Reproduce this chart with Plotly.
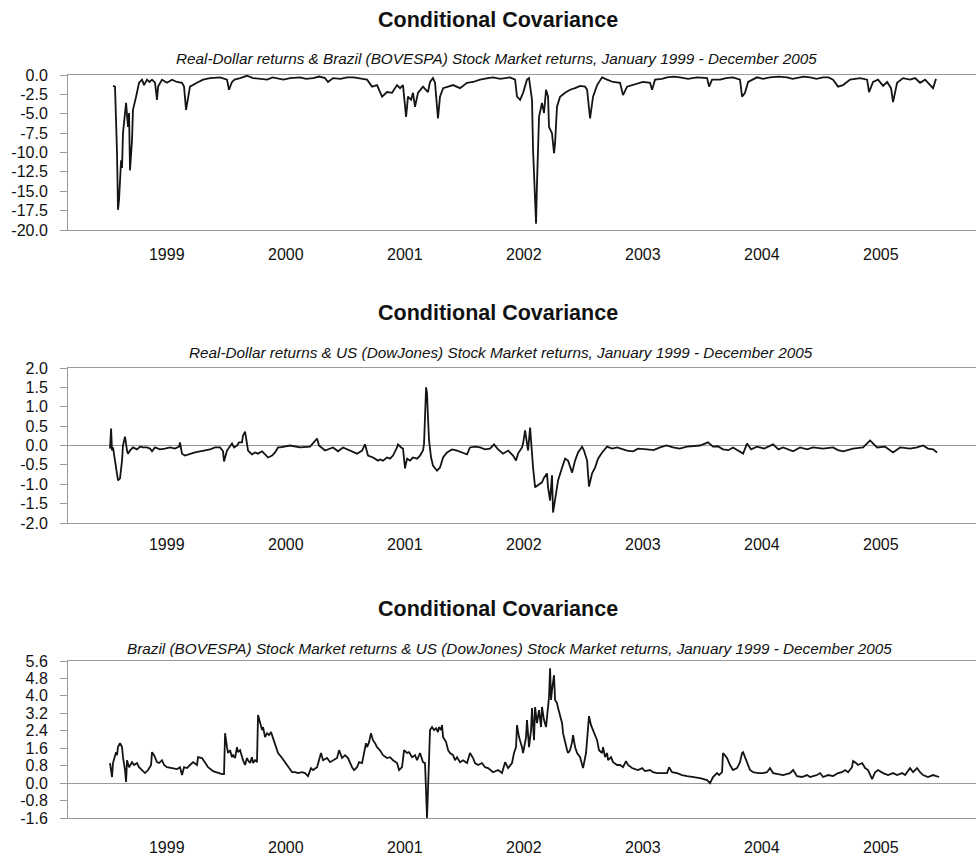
import plotly.graph_objects as go

# ---------------- data (decimal years, covariance values) ----------------
t_rd_bov = [1999.008, 1999.025, 1999.042, 1999.050, 1999.059, 1999.076, 1999.084, 1999.092, 1999.118, 1999.134,
            1999.143, 1999.151, 1999.168, 1999.176, 1999.202, 1999.227, 1999.252, 1999.269, 1999.294, 1999.315,
            1999.336, 1999.361, 1999.378, 1999.387, 1999.420, 1999.462, 1999.504, 1999.546, 1999.588, 1999.605,
            1999.622, 1999.639, 1999.655, 1999.714, 1999.765, 1999.824, 1999.908, 1999.966, 1999.983, 2000.008,
            2000.030, 2000.076, 2000.134, 2000.185, 2000.240, 2000.303, 2000.350, 2000.387, 2000.440, 2000.496,
            2000.580, 2000.630, 2000.689, 2000.740, 2000.790, 2000.815, 2000.857, 2000.920, 2000.975, 2001.030,
            2001.084, 2001.143, 2001.185, 2001.227, 2001.269, 2001.311, 2001.353, 2001.395, 2001.420, 2001.445,
            2001.471, 2001.487, 2001.513, 2001.529, 2001.546, 2001.571, 2001.613, 2001.655, 2001.672, 2001.697,
            2001.714, 2001.739, 2001.756, 2001.782, 2001.824, 2001.866, 2001.924, 2001.983, 2002.034, 2002.092,
            2002.160, 2002.202, 2002.261, 2002.345, 2002.387, 2002.403, 2002.429, 2002.454, 2002.487, 2002.504,
            2002.529, 2002.538, 2002.555, 2002.563, 2002.571, 2002.588, 2002.613, 2002.630, 2002.647, 2002.664,
            2002.672, 2002.697, 2002.714, 2002.723, 2002.739, 2002.765, 2002.807, 2002.849, 2002.891, 2002.933,
            2002.975, 2002.992, 2003.017, 2003.042, 2003.076, 2003.118, 2003.160, 2003.210, 2003.269, 2003.294,
            2003.328, 2003.378, 2003.462, 2003.521, 2003.538, 2003.563, 2003.620, 2003.664, 2003.720, 2003.773,
            2003.840, 2003.916, 2004.000, 2004.017, 2004.042, 2004.109, 2004.160, 2004.218, 2004.277, 2004.294,
            2004.319, 2004.345, 2004.420, 2004.470, 2004.529, 2004.600, 2004.672, 2004.720, 2004.756, 2004.810,
            2004.866, 2004.920, 2004.975, 2005.020, 2005.059, 2005.101, 2005.143, 2005.202, 2005.286, 2005.345,
            2005.361, 2005.395, 2005.437, 2005.479, 2005.513, 2005.546, 2005.563, 2005.597, 2005.647, 2005.706,
            2005.748, 2005.790, 2005.832, 2005.874, 2005.899, 2005.924]
v_rd_bov = [-1.4, -1.5, -10.1, -17.4, -16.1, -11.0, -12.0, -7.5, -3.6, -6.7,
            -4.9, -12.3, -8.4, -4.5, -2.8, -1.0, -0.6, -1.3, -0.6, -0.9,
            -0.6, -1.0, -3.2, -1.5, -0.6, -1.0, -0.6, -0.9, -1.0, -1.5,
            -4.5, -2.8, -1.5, -1.0, -0.6, -0.4, -0.3, -0.6, -1.9, -0.9,
            -0.6, -0.4, -0.1, -0.4, -0.5, -0.6, -0.3, -0.4, -0.6, -0.4,
            -0.3, -0.5, -0.4, -0.2, -0.4, -0.9, -0.4, -0.5, -0.3, -0.3,
            -0.4, -0.6, -1.5, -1.3, -2.8, -2.2, -2.3, -1.3, -1.7, -1.3,
            -5.4, -2.8, -3.2, -2.3, -4.1, -2.3, -1.5, -2.2, -0.9, -0.4,
            -1.0, -5.6, -2.8, -1.7, -1.5, -1.3, -1.7, -1.0, -0.9, -0.6,
            -0.4, -0.3, -0.5, -0.3, -0.6, -2.8, -3.2, -2.3, -0.6, -0.4,
            -3.2, -9.7, -16.1, -19.2, -14.0, -5.4, -3.6, -4.9, -1.9, -2.8,
            -6.7, -7.5, -10.1, -8.8, -4.1, -2.8, -2.3, -1.9, -1.7, -1.4,
            -1.5, -1.9, -5.6, -2.8, -1.3, -0.3, -0.6, -0.9, -1.0, -2.6,
            -1.5, -1.3, -0.9, -1.0, -1.9, -0.6, -0.5, -0.3, -0.2, -0.3,
            -0.5, -0.3, -0.4, -1.5, -0.6, -0.6, -0.4, -0.3, -0.6, -2.8,
            -2.3, -0.9, -0.3, -0.5, -0.3, -0.2, -0.3, -0.5, -0.4, -0.2,
            -0.3, -0.5, -0.3, -0.3, -0.6, -1.5, -1.3, -0.6, -0.4, -0.6,
            -2.2, -0.9, -0.6, -1.4, -0.9, -1.7, -3.5, -1.0, -0.4, -0.6,
            -0.4, -1.0, -0.6, -1.3, -1.7, -0.5]

t_rd_dj = [1998.983, 1998.992, 1999.000, 1999.008, 1999.025, 1999.042, 1999.050, 1999.067, 1999.084, 1999.092,
           1999.109, 1999.126, 1999.134, 1999.151, 1999.176, 1999.210, 1999.235, 1999.261, 1999.294, 1999.319,
           1999.336, 1999.361, 1999.403, 1999.445, 1999.487, 1999.529, 1999.563, 1999.571, 1999.588, 1999.613,
           1999.655, 1999.697, 1999.739, 1999.782, 1999.824, 1999.866, 1999.908, 1999.933, 1999.941, 1999.966,
           1999.992, 2000.008, 2000.025, 2000.050, 2000.067, 2000.092, 2000.101, 2000.118, 2000.134, 2000.143,
           2000.176, 2000.202, 2000.227, 2000.261, 2000.286, 2000.311, 2000.345, 2000.370, 2000.395, 2000.412,
           2000.496, 2000.580, 2000.664, 2000.723, 2000.739, 2000.790, 2000.857, 2000.899, 2000.941, 2001.000,
           2001.059, 2001.101, 2001.126, 2001.151, 2001.193, 2001.235, 2001.252, 2001.277, 2001.311, 2001.336,
           2001.361, 2001.395, 2001.403, 2001.429, 2001.445, 2001.462, 2001.479, 2001.504, 2001.529, 2001.563,
           2001.588, 2001.613, 2001.622, 2001.639, 2001.647, 2001.655, 2001.664, 2001.681, 2001.697, 2001.731,
           2001.756, 2001.782, 2001.815, 2001.857, 2001.899, 2001.941, 2001.983, 2002.008, 2002.050, 2002.092,
           2002.134, 2002.176, 2002.210, 2002.244, 2002.286, 2002.328, 2002.370, 2002.395, 2002.412, 2002.445,
           2002.454, 2002.471, 2002.487, 2002.496, 2002.513, 2002.529, 2002.538, 2002.555, 2002.580, 2002.613,
           2002.630, 2002.655, 2002.664, 2002.681, 2002.697, 2002.706, 2002.731, 2002.748, 2002.782, 2002.807,
           2002.832, 2002.866, 2002.891, 2002.916, 2002.950, 2002.966, 2002.992, 2003.008, 2003.034, 2003.059,
           2003.084, 2003.118, 2003.160, 2003.202, 2003.244, 2003.286, 2003.328, 2003.378, 2003.420, 2003.496,
           2003.550, 2003.605, 2003.660, 2003.714, 2003.770, 2003.832, 2003.880, 2003.941, 2004.008, 2004.050,
           2004.090, 2004.134, 2004.180, 2004.218, 2004.303, 2004.336, 2004.370, 2004.420, 2004.480, 2004.555,
           2004.600, 2004.639, 2004.723, 2004.782, 2004.840, 2004.891, 2004.975, 2005.059, 2005.100, 2005.143,
           2005.227, 2005.311, 2005.370, 2005.429, 2005.496, 2005.563, 2005.622, 2005.706, 2005.765, 2005.815,
           2005.857, 2005.899, 2005.933]
v_rd_dj = [-0.08, 0.44, -0.13, -0.05, -0.39, -0.83, -0.90, -0.85, -0.39, 0.00,
           0.23, -0.13, -0.21, -0.13, -0.05, -0.10, -0.03, -0.05, -0.05, -0.08,
           -0.15, -0.05, -0.10, -0.08, -0.05, -0.08, -0.03, 0.08, -0.21, -0.26,
           -0.21, -0.18, -0.15, -0.13, -0.10, -0.05, -0.05, -0.15, -0.41, -0.13,
           0.00, 0.05, -0.05, 0.00, 0.08, 0.08, 0.26, 0.36, 0.05, -0.13,
           -0.23, -0.18, -0.21, -0.15, -0.23, -0.31, -0.26, -0.18, -0.05, -0.05,
           0.00, -0.05, -0.03, 0.18, 0.00, -0.13, -0.05, -0.15, -0.05, -0.13,
           -0.21, -0.13, 0.03, -0.26, -0.31, -0.39, -0.36, -0.39, -0.31, -0.34,
           -0.26, -0.05, 0.03, -0.05, -0.08, -0.59, -0.34, -0.39, -0.31, -0.34,
           -0.26, -0.13, 0.05, 1.50, 1.34, 0.72, 0.13, -0.31, -0.52, -0.65,
           -0.57, -0.31, -0.18, -0.10, -0.13, -0.18, -0.23, -0.05, -0.03, -0.05,
           -0.10, -0.08, 0.03, -0.10, -0.21, -0.13, -0.26, -0.39, -0.21, -0.05,
           0.05, 0.39, 0.05, -0.13, 0.46, -0.31, -0.57, -1.08, -1.03, -0.95,
           -0.83, -0.72, -1.08, -1.42, -0.77, -1.73, -1.24, -0.90, -0.57, -0.34,
           -0.39, -0.70, -0.39, -0.18, -0.03, -0.13, -0.39, -1.06, -0.72, -0.57,
           -0.34, -0.18, -0.03, -0.08, -0.05, -0.10, -0.13, -0.15, -0.08, -0.10,
           -0.12, -0.05, 0.00, -0.05, -0.08, -0.03, -0.02, 0.00, 0.08, -0.03,
           -0.02, -0.10, -0.12, -0.05, -0.21, 0.05, -0.10, -0.03, -0.08, 0.03,
           -0.10, -0.05, -0.15, -0.05, -0.10, -0.05, -0.08, -0.05, -0.12, -0.15,
           -0.08, -0.05, 0.13, -0.05, -0.03, -0.18, -0.05, -0.08, -0.05, 0.00,
           -0.08, -0.10, -0.18]

t_bov_dj = [1998.983, 1999.000, 1999.008, 1999.025, 1999.034, 1999.042, 1999.050, 1999.067, 1999.084, 1999.092,
            1999.109, 1999.118, 1999.126, 1999.143, 1999.168, 1999.185, 1999.210, 1999.227, 1999.252, 1999.277,
            1999.303, 1999.328, 1999.336, 1999.353, 1999.378, 1999.395, 1999.420, 1999.437, 1999.462, 1999.504,
            1999.546, 1999.571, 1999.588, 1999.605, 1999.630, 1999.655, 1999.681, 1999.714, 1999.723, 1999.756,
            1999.782, 1999.807, 1999.849, 1999.891, 1999.924, 1999.941, 1999.950, 1999.966, 1999.975, 1999.992,
            2000.008, 2000.017, 2000.034, 2000.050, 2000.059, 2000.076, 2000.092, 2000.101, 2000.118, 2000.134,
            2000.143, 2000.160, 2000.176, 2000.185, 2000.202, 2000.218, 2000.227, 2000.244, 2000.261, 2000.269,
            2000.286, 2000.303, 2000.319, 2000.336, 2000.353, 2000.370, 2000.395, 2000.429, 2000.454, 2000.479,
            2000.513, 2000.538, 2000.563, 2000.597, 2000.622, 2000.647, 2000.672, 2000.689, 2000.723, 2000.739,
            2000.756, 2000.773, 2000.807, 2000.832, 2000.857, 2000.891, 2000.908, 2000.933, 2000.958, 2000.983,
            2001.017, 2001.034, 2001.059, 2001.076, 2001.101, 2001.118, 2001.134, 2001.143, 2001.160, 2001.176,
            2001.193, 2001.210, 2001.227, 2001.252, 2001.277, 2001.311, 2001.336, 2001.361, 2001.395, 2001.412,
            2001.437, 2001.454, 2001.479, 2001.496, 2001.521, 2001.546, 2001.563, 2001.588, 2001.613, 2001.630,
            2001.639, 2001.647, 2001.655, 2001.664, 2001.672, 2001.689, 2001.706, 2001.723, 2001.739, 2001.748,
            2001.765, 2001.773, 2001.782, 2001.807, 2001.824, 2001.840, 2001.866, 2001.882, 2001.899, 2001.924,
            2001.950, 2001.983, 2002.008, 2002.034, 2002.050, 2002.076, 2002.109, 2002.134, 2002.160, 2002.202,
            2002.244, 2002.277, 2002.303, 2002.328, 2002.361, 2002.378, 2002.395, 2002.403, 2002.420, 2002.445,
            2002.454, 2002.479, 2002.487, 2002.504, 2002.521, 2002.529, 2002.546, 2002.555, 2002.571, 2002.588,
            2002.605, 2002.613, 2002.630, 2002.647, 2002.664, 2002.672, 2002.681, 2002.689, 2002.697, 2002.714,
            2002.723, 2002.739, 2002.748, 2002.765, 2002.782, 2002.790, 2002.807, 2002.824, 2002.832, 2002.849,
            2002.866, 2002.874, 2002.891, 2002.908, 2002.933, 2002.958, 2002.983, 2003.000, 2003.008, 2003.025,
            2003.042, 2003.076, 2003.092, 2003.118, 2003.126, 2003.143, 2003.160, 2003.168, 2003.193, 2003.210,
            2003.244, 2003.269, 2003.294, 2003.319, 2003.336, 2003.370, 2003.395, 2003.420, 2003.454, 2003.479,
            2003.521, 2003.546, 2003.580, 2003.622, 2003.664, 2003.681, 2003.706, 2003.748, 2003.790, 2003.832,
            2003.882, 2003.941, 2004.000, 2004.025, 2004.050, 2004.084, 2004.101, 2004.126, 2004.134, 2004.168,
            2004.193, 2004.218, 2004.252, 2004.277, 2004.294, 2004.303, 2004.319, 2004.336, 2004.361, 2004.387,
            2004.429, 2004.471, 2004.504, 2004.529, 2004.555, 2004.597, 2004.639, 2004.697, 2004.723, 2004.756,
            2004.798, 2004.840, 2004.866, 2004.891, 2004.924, 2004.950, 2004.975, 2005.017, 2005.059, 2005.101,
            2005.134, 2005.160, 2005.185, 2005.218, 2005.227, 2005.252, 2005.269, 2005.303, 2005.328, 2005.353,
            2005.387, 2005.412, 2005.437, 2005.479, 2005.521, 2005.563, 2005.597, 2005.639, 2005.664, 2005.706,
            2005.731, 2005.765, 2005.790, 2005.815, 2005.857, 2005.899, 2005.950]
v_bov_dj = [0.92, 0.28, 0.92, 1.19, 1.42, 1.28, 1.65, 1.83, 1.65, 1.19,
            0.60, 0.05, 1.05, 0.73, 0.96, 0.83, 0.92, 0.73, 0.60, 0.46,
            0.60, 0.83, 1.42, 1.28, 0.96, 0.92, 1.05, 0.83, 0.73, 0.69,
            0.64, 0.73, 0.37, 0.73, 0.69, 0.83, 0.96, 0.83, 1.19, 1.15,
            0.92, 0.73, 0.55, 0.46, 0.41, 0.41, 2.29, 1.65, 1.38, 1.51,
            1.19, 1.28, 1.15, 1.65, 1.42, 1.51, 1.19, 1.05, 0.83, 1.15,
            1.05, 0.92, 1.19, 0.92, 1.05, 0.96, 3.12, 2.80, 2.43, 2.57,
            2.11, 2.29, 2.20, 2.34, 2.06, 1.74, 1.38, 1.15, 0.96, 0.73,
            0.50, 0.50, 0.46, 0.50, 0.46, 0.32, 0.69, 0.60, 0.73, 1.05,
            1.38, 1.05, 1.15, 0.96, 1.05, 1.15, 1.51, 1.15, 1.28, 1.15,
            0.73, 0.60, 0.73, 0.96, 0.92, 1.42, 1.83, 1.65, 1.88, 2.29,
            1.97, 1.83, 1.65, 1.51, 1.28, 1.15, 1.19, 1.05, 0.92, 0.60,
            0.73, 1.51, 1.38, 1.42, 1.19, 1.28, 1.05, 1.38, 0.96, 0.92,
            -0.32, -1.60, -0.32, 1.97, 2.43, 2.57, 2.43, 2.52, 2.34, 2.57,
            2.43, 2.66, 2.11, 1.88, 1.51, 1.38, 1.28, 1.05, 1.19, 0.96,
            1.05, 0.92, 1.38, 1.15, 0.92, 0.83, 0.92, 0.73, 0.69, 0.50,
            0.60, 0.46, 0.96, 0.69, 0.92, 1.38, 1.65, 2.66, 2.11, 1.65,
            1.38, 2.11, 2.89, 1.65, 2.43, 3.44, 1.97, 3.49, 2.75, 3.35,
            2.57, 3.49, 2.89, 2.57, 3.35, 3.94, 5.27, 3.81, 4.26, 4.95,
            3.81, 3.67, 3.44, 3.12, 2.75, 2.29, 1.83, 1.51, 1.38, 1.51,
            1.88, 2.20, 1.65, 1.38, 1.19, 0.69, 1.38, 2.43, 3.07, 2.66,
            2.43, 1.97, 1.51, 1.38, 1.65, 1.19, 1.38, 1.05, 1.19, 0.96,
            0.83, 0.83, 0.73, 1.01, 0.83, 0.69, 0.64, 0.60, 0.69, 0.55,
            0.60, 0.50, 0.46, 0.46, 0.46, 0.73, 0.50, 0.46, 0.37, 0.32,
            0.28, 0.23, 0.14, 0.00, 0.28, 0.46, 0.37, 0.50, 1.38, 1.15,
            0.83, 0.60, 0.69, 0.96, 1.38, 1.42, 1.19, 0.92, 0.60, 0.50,
            0.46, 0.46, 0.50, 0.69, 0.46, 0.41, 0.37, 0.46, 0.60, 0.32,
            0.28, 0.37, 0.28, 0.32, 0.37, 0.46, 0.28, 0.37, 0.32, 0.46,
            0.50, 0.60, 0.50, 0.73, 1.01, 0.92, 0.83, 0.92, 0.69, 0.60,
            0.18, 0.50, 0.60, 0.46, 0.37, 0.46, 0.37, 0.46, 0.37, 0.69,
            0.50, 0.69, 0.50, 0.37, 0.28, 0.37, 0.28]

years = [1999, 2000, 2001, 2002, 2003, 2004, 2005]

panels = [
    dict(t=t_rd_bov, v=v_rd_bov, rng=(-20.0, 0.0), step=2.5, zero=False,
         sub="Real-Dollar returns & Brazil (BOVESPA) Stock Market returns, January 1999 - December 2005"),
    dict(t=t_rd_dj, v=v_rd_dj, rng=(-2.0, 2.0), step=0.5, zero=True,
         sub="Real-Dollar returns & US (DowJones) Stock Market returns, January 1999 - December 2005"),
    dict(t=t_bov_dj, v=v_bov_dj, rng=(-1.6, 5.6), step=0.8, zero=True,
         sub="Brazil (BOVESPA) Stock Market returns & US (DowJones) Stock Market returns, January 1999 - December 2005"),
]

# ---------------- layout geometry (pixels) ----------------
W, H = 976, 859
ML = 68
plot_px = [(75, 230), (368, 523), (661, 818)]     # top/bottom of each plot area
title_px = [20, 313, 609]
sub_px = [(496, 58), (501, 352), (509, 648)]
xlab_gap = [10, 7, 15]                            # year-label distance below each panel

TXT = "#111111"
GRID = "#9a9a9a"
BASE_FONT = "Liberation Sans, Arial, sans-serif"

fig = go.Figure()
layout = dict(
    width=W, height=H, margin=dict(l=ML, r=0, t=0, b=0, autoexpand=False),
    paper_bgcolor="white", plot_bgcolor="white", showlegend=False,
    font=dict(family=BASE_FONT, color=TXT),
)

annotations = []
for i, p in enumerate(panels):
    n = "" if i == 0 else str(i + 1)
    xa, ya = "x" + n, "y" + n
    fig.add_trace(go.Scatter(x=p["t"], y=p["v"], mode="lines", xaxis=xa, yaxis=ya,
                             line=dict(color="#141414", width=1.8), hoverinfo="skip"))
    top, bot = plot_px[i]
    lo, hi = p["rng"]
    nstep = int(round((hi - lo) / p["step"]))
    tv = [round(lo + k * p["step"], 2) for k in range(nstep + 1)]
    layout["xaxis" + n] = dict(
        domain=[0, 1], anchor=ya, range=[1998.63, 2006.26], automargin=False,
        showgrid=False, zeroline=False, showline=True, linecolor=GRID, linewidth=1,
        tickmode="array", tickvals=[y + 0.46 for y in years], ticktext=[str(y) for y in years],
        ticks="", ticklabelstandoff=xlab_gap[i],
        tickfont=dict(size=16, family=BASE_FONT, color=TXT), mirror=True,
    )
    layout["yaxis" + n] = dict(
        domain=[1 - bot / H, 1 - top / H], anchor=xa, range=[lo, hi], automargin=False,
        showgrid=False, zeroline=p["zero"], zerolinecolor=GRID, zerolinewidth=1,
        showline=True, linecolor=GRID, linewidth=1,
        tickmode="array", tickvals=tv, ticktext=[f"{v:.1f}" for v in tv],
        ticks="outside", ticklen=7, tickcolor=GRID, tickwidth=1, ticklabelstandoff=9,
        tickfont=dict(size=16, family=BASE_FONT, color=TXT),
    )
    annotations.append(dict(
        text="<b>Conditional Covariance</b>", xref="paper", yref="paper",
        x=(498 - ML) / (W - ML), y=1 - title_px[i] / H, xanchor="center", yanchor="middle",
        showarrow=False, font=dict(size=21.5, family=BASE_FONT, color=TXT)))
    sx, sy = sub_px[i]
    annotations.append(dict(
        text="<i>" + p["sub"] + "</i>", xref="paper", yref="paper",
        x=(sx - ML) / (W - ML), y=1 - sy / H, xanchor="center", yanchor="middle",
        showarrow=False, font=dict(size=15.3, family=BASE_FONT, color=TXT)))

layout["annotations"] = annotations
fig.update_layout(**layout)
fig.write_html("out.html")
